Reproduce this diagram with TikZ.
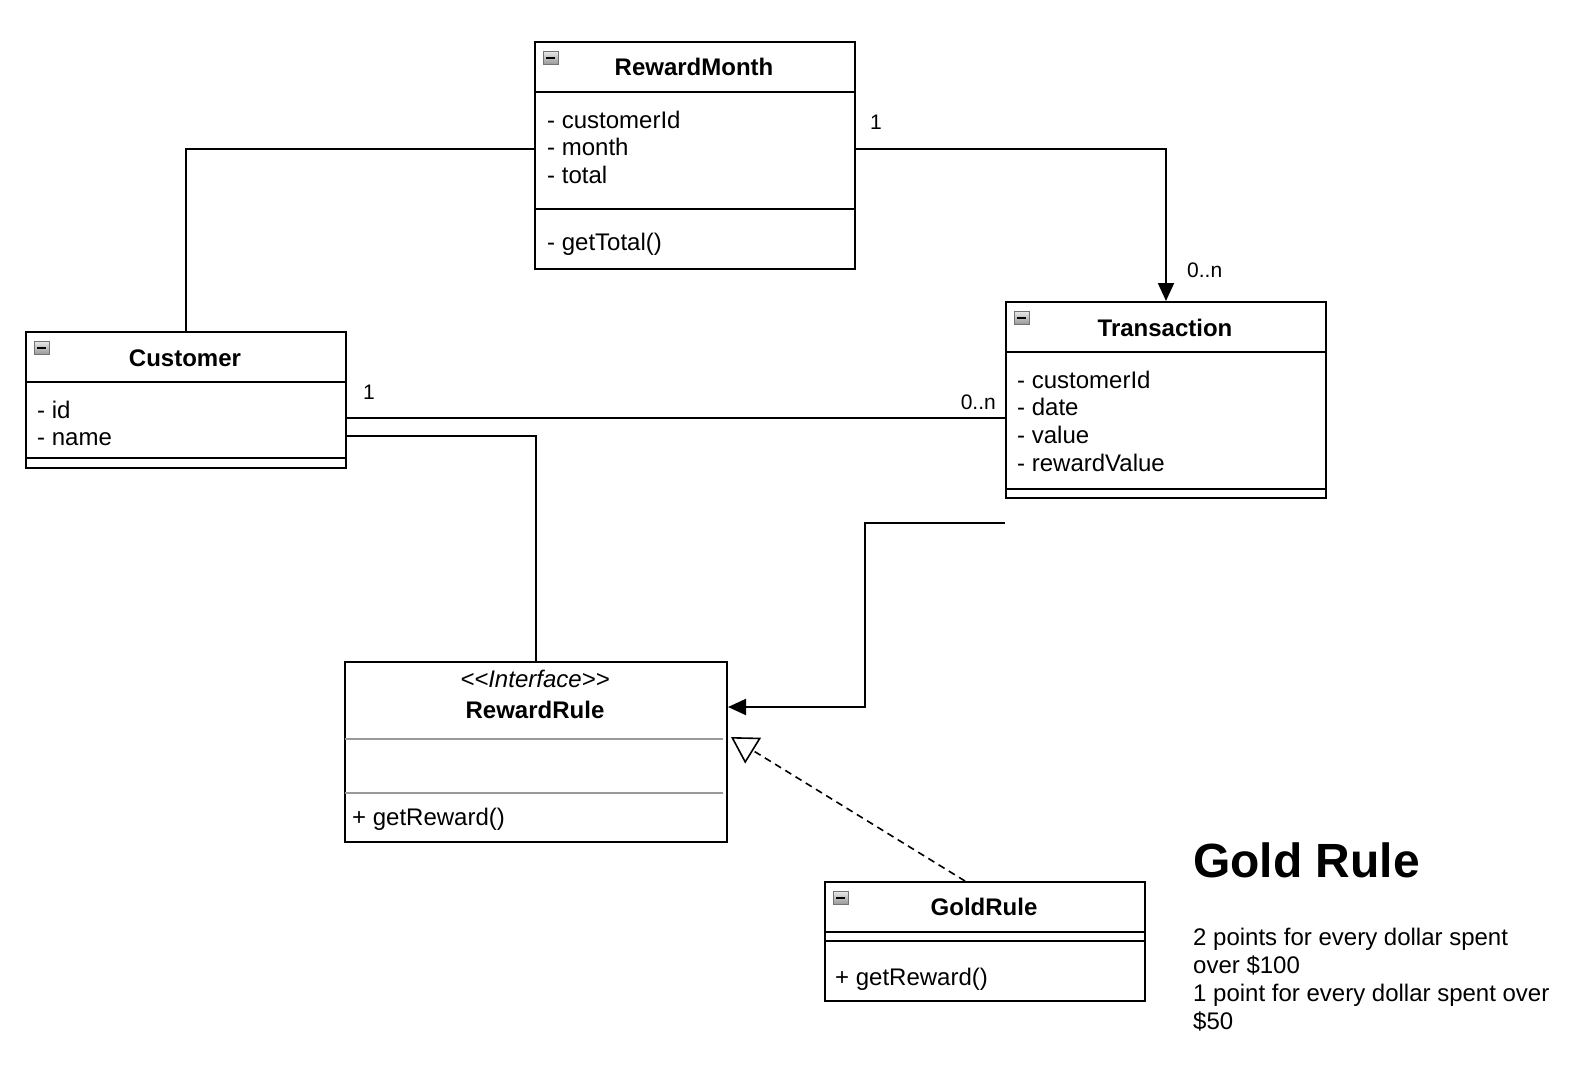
\documentclass[tikz,border=0pt]{standalone}
\usepackage{fontspec}
\setmainfont{Liberation Sans}
\usetikzlibrary{arrows.meta,calc}
\begin{document}
\begin{tikzpicture}[x=1pt,y=-1pt,
  box/.style={draw,line width=2pt,anchor=north west,inner sep=0pt,rectangle},
  txt/.style={anchor=base west,inner sep=0pt,font=\fontsize{24}{28}\selectfont},
  ttl/.style={anchor=base,inner sep=0pt,font=\fontsize{24}{28}\selectfont\bfseries},
  lbl/.style={anchor=base west,inner sep=0pt,font=\fontsize{21}{24}\selectfont},
  conn/.style={line width=2pt},
  sep/.style={line width=2pt},
  graysep/.style={line width=2pt,draw=black!40},
  collapse/.pic={
    \draw[draw=black!55,top color=black!8,bottom color=black!40,line width=0.8pt] (9,10) rectangle (24,23);
    \draw[line width=2pt] (12,16.5) -- (21,16.5);
  }
]
\fill[white] (0,0) rectangle (1588,1092);
\useasboundingbox (0,0) rectangle (1588,1092);

% RewardMonth
\node[box,minimum width=320pt,minimum height=227pt] (rm) at (534,41) {};
\draw[sep] (rm.north west) ++(0,51) -- ++(320,0);
\draw[sep] (rm.north west) ++(0,168) -- ++(320,0);
\pic at (rm.north west) {collapse};
\node[ttl] (rmt) at (694,75) {RewardMonth};
\node[txt] (rm1) at (547,128) {- customerId};
\node[txt] (rm2) at (547,155) {- month};
\node[txt] (rm3) at (547,183) {- total};
\node[txt] (rm4) at (547,250) {- getTotal()};

% Customer
\node[box,minimum width=320pt,minimum height=136pt] (cust) at (25,331) {};
\draw[sep] (cust.north west) ++(0,51) -- ++(320,0);
\draw[sep] (cust.north west) ++(0,127) -- ++(320,0);
\pic at (cust.north west) {collapse};
\node[ttl] (custt) at (185,366) {Customer};
\node[txt] (cu1) at (37,418) {- id};
\node[txt] (cu2) at (37,445) {- name};

% Transaction
\node[box,minimum width=320pt,minimum height=196pt] (tr) at (1005,301) {};
\draw[sep] (tr.north west) ++(0,51) -- ++(320,0);
\draw[sep] (tr.north west) ++(0,188) -- ++(320,0);
\pic at (tr.north west) {collapse};
\node[ttl] (trt) at (1165,336) {Transaction};
\node[txt] (tr1) at (1017,388) {- customerId};
\node[txt] (tr2) at (1017,415) {- date};
\node[txt] (tr3) at (1017,443) {- value};
\node[txt] (tr4) at (1017,471) {- rewardValue};

% RewardRule
\node[box,minimum width=382pt,minimum height=180pt] (rr) at (344,661) {};
\draw[graysep] (rr.north west) ++(1,78) -- ++(378,0);
\draw[graysep] (rr.north west) ++(1,132) -- ++(378,0);
\node[anchor=base,inner sep=0pt,font=\fontsize{24}{28}\selectfont\itshape] (rri) at (535,687) {\textless\kern0pt\textless\kern0pt Interface\kern0pt\textgreater\kern0pt\textgreater};
\node[ttl] (rrt) at (535,718) {RewardRule};
\node[txt] (rr1) at (352,825) {+ getReward()};

% GoldRule
\node[box,minimum width=320pt,minimum height=119pt] (gr) at (824,881) {};
\draw[sep] (gr.north west) ++(0,51) -- ++(320,0);
\draw[sep] (gr.north west) ++(0,60) -- ++(320,0);
\pic at (gr.north west) {collapse};
\node[ttl] (grt) at (984,915) {GoldRule};
\node[txt] (gr1) at (835,985) {+ getReward()};

% Gold Rule note
\node[anchor=base west,inner sep=0pt,font=\fontsize{48}{56}\selectfont\bfseries] (gh) at (1193,877) {Gold Rule};
\node[txt] (gb1) at (1193,945) {2 points for every dollar spent};
\node[txt] (gb2) at (1193,973) {over \$100};
\node[txt] (gb3) at (1193,1001) {1 point for every dollar spent over};
\node[txt] (gb4) at (1193,1029) {\$50};

% Connectors
\draw[conn] (cust.north) |- ([yshift=7pt]rm.west);
\draw[conn,-{Triangle[length=18pt,width=16pt]}] ([yshift=7pt]rm.east) -| (tr.north);
\coordinate (c1) at ([yshift=-18pt]cust.east);
\draw[conn] (c1) -- (c1 -| tr.west);
\coordinate (c2) at ([yshift=-36pt]cust.east);
\draw[conn] (c2) -| (rr.north);
\coordinate (fe) at (1005,523);
\coordinate (c3) at ([yshift=45pt]rr.east);
\draw[conn,-{Triangle[length=18pt,width=16pt]}] (fe) -- ++(-140,0) |- (c3);
\coordinate (c4) at ([xshift=-20pt]gr.north);
\coordinate (c5) at ($(rr.north east)+(3,76)$);
\draw[line width=1.6pt,dash pattern=on 7pt off 5pt,-{Triangle[open,length=26pt,width=30pt,fill=white]}] (c4) -- (c5);

% Multiplicity labels
\node[lbl] (l1) at (870,129) {1};
\node[lbl] (l2) at (1187,277) {0..n};
\node[lbl] (l3) at (363,399) {1};
\node[lbl,anchor=base east] (l4) at (996,409) {0..n};
\end{tikzpicture}
\end{document}
